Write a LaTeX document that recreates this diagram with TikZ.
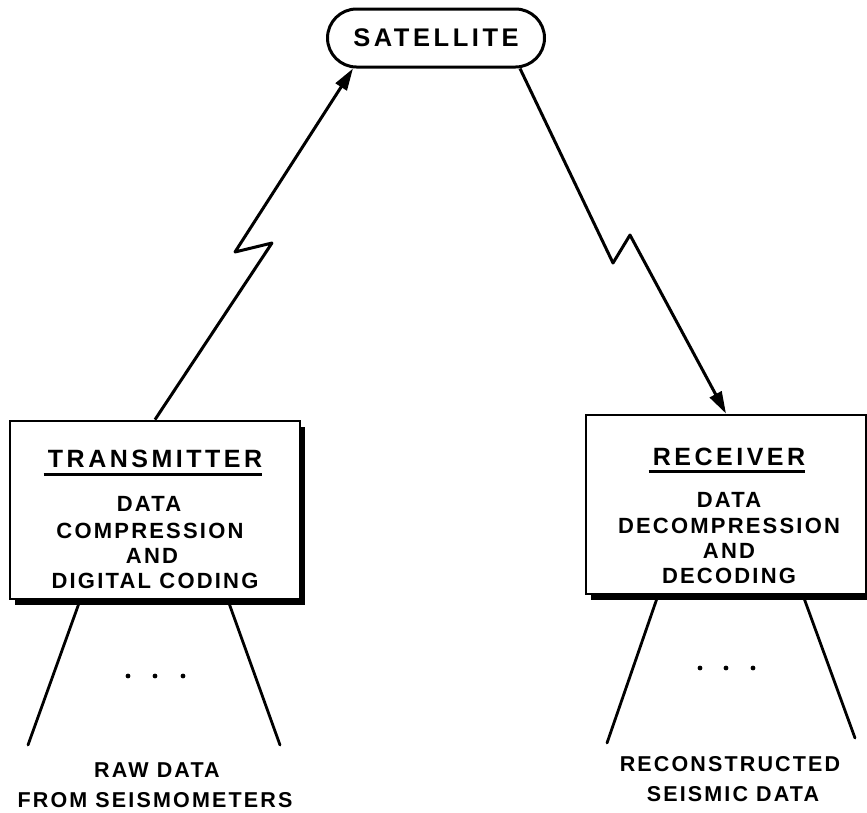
\documentclass[tikz,border=0pt]{standalone}
\usepackage{fontspec}
\setmainfont{Liberation Sans}[LetterSpace=10]
\newfontfamily\widefam{Liberation Sans}[LetterSpace=14]
\usetikzlibrary{shapes.misc,arrows.meta,shadows}
\newcommand\satfnt{\widefam\fontsize{25.5}{30}\bfseries\selectfont}
\newcommand\ttlfnt{\widefam\fontsize{25}{30}\bfseries\selectfont}
\newcommand\bdyfnt{\fontsize{22}{26}\bfseries\selectfont}
\newcommand\btmfnt{\fontsize{21.5}{28}\bfseries\selectfont}
\tikzset{
  satbox/.style={rounded rectangle, draw, line width=3pt, minimum width=217pt, minimum height=58pt, inner sep=0pt, font=\satfnt},
  unitbox/.style={rectangle, draw, line width=2.8pt, fill=white, inner sep=0pt,
     drop shadow={shadow xshift=5pt, shadow yshift=-6pt, fill=black, opacity=1}},
  ttl/.style={anchor=base, inner sep=0pt, font=\ttlfnt},
  bdy/.style={anchor=base, inner sep=0pt, font=\bdyfnt},
  btm/.style={anchor=base, inner sep=0pt, font=\btmfnt},
  link/.style={line width=3pt, line join=round, -{Triangle[length=22pt,width=13pt]}},
  leg/.style={line width=2.8pt, line cap=round},
  uline/.style={line width=3pt}
}
\begin{document}
\begin{tikzpicture}[x=1pt,y=-1pt]
\useasboundingbox (0,0) rectangle (867,812);
% satellite
\node[satbox] (sat) at (436,38) {SATELLITE};
% transmitter
\node[unitbox, minimum width=290pt, minimum height=178pt] (tx) at (155,510) {};
\node[ttl] (txt) at (155,467) {TRANSMITTER};
\draw[uline] ([shift={(-4pt,-7pt)}]txt.base west) -- ([shift={(0pt,-7pt)}]txt.base east);
\node[bdy] (tx1) at (149,511) {DATA};
\node[bdy] (tx2) at (150,538) {COMPRESSION};
\node[bdy] (tx3) at (152,563) {AND};
\node[bdy] (tx4) at (155,588) {DIGITAL CODING};
% receiver
\node[unitbox, minimum width=280pt, minimum height=179pt] (rx) at (726,504.5) {};
\node[ttl] (rxt) at (729,465) {RECEIVER};
\draw[uline] ([shift={(-4pt,-6pt)}]rxt.base west) -- ([shift={(0pt,-6pt)}]rxt.base east);
\node[bdy] (rx1) at (729,507) {DATA};
\node[bdy] (rx2) at (729,533) {DECOMPRESSION};
\node[bdy] (rx3) at (729,558) {AND};
\node[bdy] (rx4) at (729,583) {DECODING};
% radio links
\coordinate (z1) at (272,243);
\coordinate (z2) at (235,252);
\coordinate (z3) at (613,263);
\coordinate (z4) at (630,235);
\draw[link] (tx.north) -- (z1) -- (z2) -- ([xshift=-83pt]sat.south);
\draw[link] ([xshift=84pt]sat.south) -- (z3) -- (z4) -- (rx.north);
% input legs
\coordinate (tl) at (28,745);
\coordinate (tr) at (280,745);
\draw[leg] ([xshift=-75pt]tx.south) -- (tl);
\draw[leg] ([xshift=73pt]tx.south) -- (tr);
\fill (128,676) circle (2.4pt) (155,676) circle (2.4pt) (183,676) circle (2.4pt);
\node[btm] (raw1) at (157,777) {RAW DATA};
\node[btm] (raw2) at (155,807) {FROM SEISMOMETERS};
% output legs
\coordinate (rl) at (607,743);
\coordinate (rr) at (855,738);
\draw[leg] ([xshift=-68pt]rx.south) -- (rl);
\draw[leg] ([xshift=77pt]rx.south) -- (rr);
\fill (700,668) circle (2.4pt) (726,668) circle (2.4pt) (753,668) circle (2.4pt);
\node[btm] (rec1) at (730,771) {RECONSTRUCTED};
\node[btm] (rec2) at (733,801) {SEISMIC DATA};
\end{tikzpicture}
\end{document}
